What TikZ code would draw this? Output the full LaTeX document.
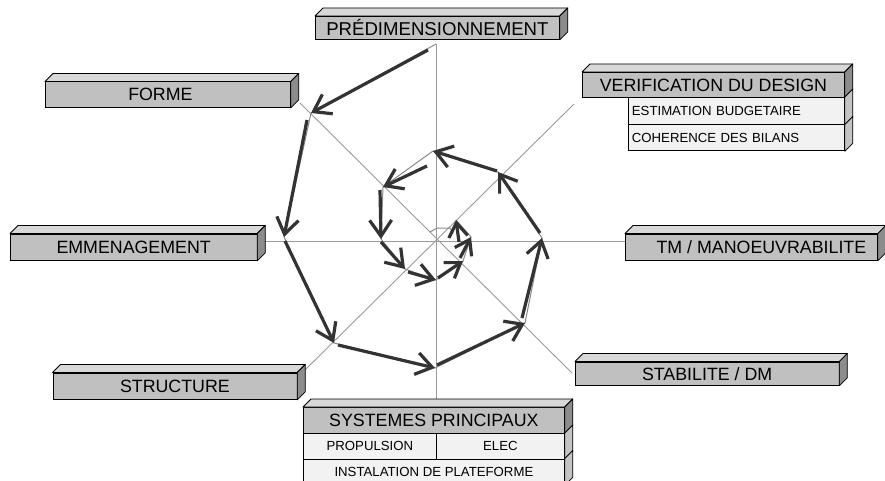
\documentclass[tikz,border=0pt]{standalone}
\usepackage{fontspec}
\setmainfont{Liberation Sans}
\usetikzlibrary{arrows.meta}
\definecolor{frontc}{HTML}{C0C0C0}
\definecolor{topc}{HTML}{D8D8D8}
\definecolor{sidec}{HTML}{8C8C8C}
\definecolor{subc}{HTML}{F2F2F2}
\definecolor{subside}{HTML}{C4C4C4}
\definecolor{axisc}{HTML}{9A9A9A}
\definecolor{pathc}{HTML}{8A8A8A}
\definecolor{arrc}{HTML}{333333}
\newcommand\mytopside[2]{%
  \filldraw[fill=topc, draw=black, line width=0.8pt, line join=round]
    (#1.north west) -- ([shift={(8,-8)}]#1.north west) -- ([shift={(8,-8)}]#1.north east) -- (#1.north east) -- cycle;
  \filldraw[fill=#2, draw=black, line width=0.8pt, line join=round]
    (#1.north east) -- ([shift={(8,-8)}]#1.north east) -- ([shift={(8,-8)}]#1.south east) -- (#1.south east) -- cycle;}
\newcommand\myside[2]{%
  \filldraw[fill=#2, draw=black, line width=0.8pt, line join=round]
    (#1.north east) -- ([shift={(8,-8)}]#1.north east) -- ([shift={(8,-8)}]#1.south east) -- (#1.south east) -- cycle;}
\begin{document}
\begin{tikzpicture}[x=1pt,y=-1pt,
  mainbox/.style={draw=black, line width=0.8pt, fill=frontc, inner sep=0pt, anchor=north west,
    font=\fontsize{17.8}{20}\selectfont},
  subbox/.style={draw=black, line width=0.8pt, fill=subc, inner sep=0pt, anchor=north west,
    font=\fontsize{13.2}{15}\selectfont},
  axis/.style={draw=axisc, line width=0.9pt},
  graypath/.style={draw=pathc, line width=1pt, line join=round},
  sp/.style={draw=arrc, line width=3.2pt,
    -{Straight Barb[length=16pt, width=22pt, line width=3.2pt]}},
  spsmall/.style={draw=arrc, line width=3.2pt,
    -{Straight Barb[length=14pt, width=19pt, line width=3.2pt]}}]
\fill[white] (0,0) rectangle (885,481);
\useasboundingbox (0,0) rectangle (885,481);

% axes
\coordinate (c) at (436,241);
\coordinate (an) at (436,44);
\coordinate (as) at (436,400);
\coordinate (aw) at (265,241);
\coordinate (ae) at (626,241);
\coordinate (anw) at (300,103);
\coordinate (ase) at (572,373);
\coordinate (ane) at (574,104);
\coordinate (asw) at (304,371);
\draw[axis] (an) -- (as);
\draw[axis] (aw) -- (ae);
\draw[axis] (anw) -- (ase);
\draw[axis] (ane) -- (asw);

% spiral points
\coordinate (p1) at (436,44);
\coordinate (p2) at (311,113);
\coordinate (p3) at (284,237);
\coordinate (p4) at (334,343);
\coordinate (p5) at (435,368);
\coordinate (p6) at (525,323);
\coordinate (p7) at (542,238);
\coordinate (p8) at (498,172);
\coordinate (p9) at (433,151);
\coordinate (p10) at (383,187);
\coordinate (p11) at (381,239);
\coordinate (p12) at (405,269);
\coordinate (p13) at (436,280);
\coordinate (p14) at (463,261);
\coordinate (p15) at (471,237);
\coordinate (p16) at (456,220);
\coordinate (q1) at (453,233);
\coordinate (q2) at (450,228);
\coordinate (q3) at (437,228);
\coordinate (q4) at (430,232);

\draw[graypath] (p1) -- (p2) -- (p3) -- (p4) -- (p5) -- (p6) -- (p7) -- (p8) -- (p9) -- (p10)
  -- (p11) -- (p12) -- (p13) -- (p14) -- (p15) -- (p16);
\draw[graypath] (q1) -- (q2) -- (q3) -- (q4);

% arrow starts
\coordinate (s1) at (428,50);
\coordinate (s2) at (307,120);
\coordinate (s3) at (285,241);
\coordinate (s4) at (338,345);
\coordinate (s5) at (437,365);
\coordinate (s6) at (522,318);
\coordinate (s7) at (540,233);
\coordinate (s8) at (497,171);
\coordinate (s9) at (427,166);
\coordinate (s10) at (380,190);
\coordinate (s11) at (381,242);
\coordinate (s12) at (408,272);
\coordinate (s13) at (438,278);
\coordinate (s14) at (460,258);
\coordinate (s15) at (459,242);

\draw[sp] (s1) -- (p2);
\draw[sp] (s2) -- (p3);
\draw[sp] (s3) -- (p4);
\draw[sp] (s4) -- (p5);
\draw[sp] (s5) -- (p6);
\draw[sp] (s6) -- (p7);
\draw[sp] (s7) -- (p8);
\draw[sp] (s8) -- (p9);
\draw[sp] (s9) -- (p10);
\draw[sp] (s10) -- (p11);
\draw[sp] (s11) -- (p12);
\draw[sp] (s12) -- (p13);
\draw[spsmall] (s13) -- (p14);
\draw[spsmall] (s14) -- (p15);
\draw[spsmall] (s15) -- (p16);

% boxes
\node[mainbox, minimum width=244, minimum height=23, font=\fontsize{18.6}{20}\selectfont] (pred) at (315,16) {PRÉDIMENSIONNEMENT};
\mytopside{pred}{sidec}

\node[mainbox, minimum width=245, minimum height=25.5, label={[xshift=-7.5pt, font=\fontsize{17.8}{20}\selectfont]center:FORME}] (forme) at (45,81.5) {};
\mytopside{forme}{sidec}

\node[mainbox, minimum width=246.5, minimum height=26.5] (emm) at (10,233.5) {EMMENAGEMENT};
\mytopside{emm}{sidec}

\node[mainbox, minimum width=252, minimum height=26.5, label={[xshift=10pt, font=\fontsize{17.8}{20}\selectfont]center:TM / MANOEUVRABILITE}] (tm) at (625,233.5) {};
\mytopside{tm}{sidec}

\node[mainbox, minimum width=263.5, minimum height=23.5] (stab) at (575,361.5) {STABILITE / DM};
\mytopside{stab}{sidec}

\node[mainbox, minimum width=244, minimum height=26.5] (struct) at (52.5,372.5) {STRUCTURE};
\mytopside{struct}{sidec}

% verification
\node[mainbox, minimum width=262, minimum height=25] (verif) at (582,72) {VERIFICATION DU DESIGN};
\mytopside{verif}{sidec}
\node[subbox, minimum width=216, minimum height=27.5, align=left, text width=209pt] (budg) at (628,97) {ESTIMATION BUDGETAIRE};
\myside{budg}{subside}
\node[subbox, minimum width=216, minimum height=26, align=left, text width=209pt] (coh) at (628,124.5) {COHERENCE DES BILANS};
\myside{coh}{subside}

% systemes principaux
\node[mainbox, minimum width=261, minimum height=26] (sys) at (303,407) {SYSTEMES PRINCIPAUX};
\mytopside{sys}{sidec}
\node[subbox, minimum width=133, minimum height=25.5] (prop) at (303,433) {PROPULSION};
\node[subbox, minimum width=128, minimum height=25.5] (elec) at (436,433) {ELEC};
\myside{elec}{subside}
\node[subbox, minimum width=261, minimum height=26] (inst) at (303,458.5) {INSTALATION DE PLATEFORME};
\myside{inst}{subside}
\end{tikzpicture}
\end{document}
